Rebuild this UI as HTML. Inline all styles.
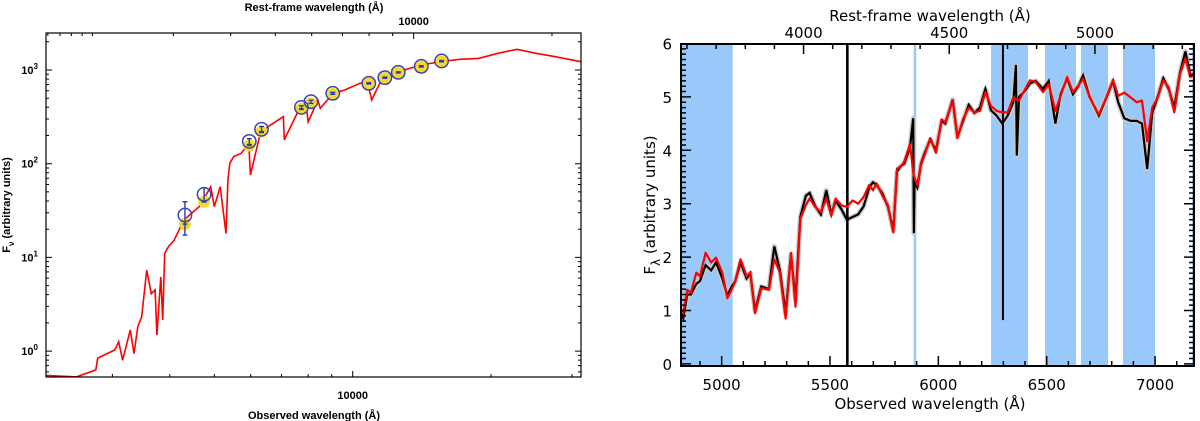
<!DOCTYPE html>
<html><head><meta charset="utf-8">
<style>
html,body{margin:0;padding:0;background:#fff;}
svg{display:block;}
.lt{font-family:"Liberation Sans",sans-serif;font-weight:bold;font-size:11px;fill:#000;}
.rt{font-family:"DejaVu Sans","Liberation Sans",sans-serif;font-size:15px;fill:#000;}
</style></head>
<body>
<svg id="fig" width="1200" height="421" viewBox="0 0 1200 421" xmlns="http://www.w3.org/2000/svg">
<g id="left"></g>
<g id="right"></g>
</svg>
<script>
// ---------- LEFT PANEL DATA (SED) ----------
const sedWave = [2150,2506,2761,2787,3037,3097,3157,3281,3343,3408,3475,3562,3645,3715,3750,3823,3861,3899,3972,4090,4291,4457,4634,4815,4909,5000,5148,5300,5350,5402,5508,5720,5943,5990,6295,6546,7065,7100,7629,7925,8000,8395,8500,9069,9605,10375,10777,11000,11635,12567,14100,15520,17080,18800,20700,22780,25060,27600,31380];
const sedFlux = [0.55,0.53,0.63,0.84,1.03,1.26,0.80,1.68,0.94,1.82,2.33,7.3,4.1,4.5,1.48,6.2,2.14,11.0,13.0,15.3,25,29.5,34.8,48,56.8,34.8,56.8,18,67,101,119,129,165,76,211,248,318,180,374,406,280,478,390,564,611,721,732,478,849,960,1130,1227,1300,1330,1506,1662,1506,1388,1227];
const photWave = [4315,4750,5957,6334,7734,8113,9049,10839,11749,12565,14100,15610];
const modelFlux = [28.3,47.1,173,233,399,459,564,721,828,944,1094,1248];
const obsFlux = [22.7,39.3,156,220,384,441,554,721,821,937,1085,1237];
const errLo = [17.3,39,160,215,380,440,550,710,815,930,1075,1225];
const errHi = [39.3,55.4,185,250,415,475,578,732,840,955,1110,1265];
const lYTicks = [1,10,100,1000];
const lYTickLabels = ["0","1","2","3"];
const lXMinor = [3000,4000,5000,6000,7000,8000,9000,20000,30000];
const redshift = 0.357;

// ---------- RIGHT PANEL DATA (spectrum) ----------
const specWave = [4795,4823,4841,4858,4883,4900,4926,4952,4974,5003,5026,5046,5063,5087,5115,5132,5154,5183,5218,5243,5269,5295,5320,5341,5363,5389,5406,5432,5458,5483,5506,5526,5552,5578,5604,5630,5655,5681,5698,5715,5741,5767,5792,5809,5826,5843,5869,5886,5903,5920,5937,5963,5989,6015,6032,6066,6088,6114,6140,6166,6192,6217,6243,6269,6295,6320,6346,6372,6397,6423,6449,6483,6509,6540,6564,6594,6621,6646,6668,6698,6741,6772,6806,6830,6858,6887,6916,6940,6964,6987,7012,7038,7063,7089,7115,7140,7163,7185];
const modelSpec = [1.14,0.95,1.39,1.33,1.71,1.64,2.08,1.90,1.99,1.71,1.23,1.39,1.55,1.96,1.64,1.71,0.95,1.42,1.39,1.96,1.71,0.85,2.08,1.07,2.72,2.97,3.10,2.94,2.84,3.10,2.78,3.10,2.97,2.94,3.06,3.00,3.13,3.35,3.25,3.38,3.16,2.97,2.46,3.66,3.69,3.79,4.11,3.54,3.35,3.73,3.92,4.23,3.95,4.58,4.52,4.93,4.23,4.58,4.80,4.71,4.74,5.09,4.83,4.74,4.71,4.71,4.99,4.93,5.12,5.31,5.28,5.09,5.24,4.74,5.02,5.37,5.09,5.21,5.34,4.99,4.67,4.96,5.31,5.02,5.08,4.99,4.90,4.93,4.17,4.80,4.99,5.31,5.18,4.71,5.43,5.72,5.37,5.43];
const obsWaveSpec = [4795,4823,4841,4858,4883,4900,4926,4952,4974,5003,5026,5046,5063,5087,5115,5132,5154,5183,5218,5243,5269,5295,5320,5341,5363,5389,5406,5432,5458,5483,5506,5526,5552,5578,5604,5630,5655,5681,5698,5715,5741,5767,5792,5809,5826,5843,5869,5884,5887,5890,5903,5920,5937,5963,5989,6015,6032,6066,6088,6114,6140,6166,6192,6217,6243,6269,6295,6320,6346,6358,6362,6372,6397,6423,6449,6483,6509,6540,6564,6594,6621,6646,6668,6698,6741,6772,6806,6830,6858,6887,6916,6940,6964,6987,7012,7038,7063,7089,7115,7140,7163,7185];
const obsSpec = [1.10,0.85,1.30,1.30,1.50,1.55,1.85,1.75,1.90,1.60,1.28,1.45,1.55,1.90,1.60,1.70,1.00,1.45,1.40,2.20,1.75,0.95,2.05,1.20,2.75,3.15,3.20,2.95,2.80,3.25,2.80,3.05,2.90,2.70,2.75,2.80,2.95,3.30,3.40,3.35,3.20,2.95,2.50,3.60,3.70,3.75,4.05,4.60,2.45,3.40,3.30,3.75,3.95,4.20,4.00,4.55,4.50,4.95,4.25,4.55,4.85,4.70,4.80,5.15,4.75,4.65,4.50,4.65,4.90,5.60,3.90,5.00,5.10,5.25,5.30,5.15,5.30,4.50,5.05,5.35,5.05,5.20,5.40,5.00,4.65,4.95,5.30,4.90,4.60,4.55,4.55,4.50,3.65,4.70,5.00,5.35,5.15,4.80,5.45,5.85,5.40,5.45];
const skyBands = [[4795,5051],[5886,5898],[6243,6414],[6492,6635],[6658,6783],[6852,7000],[7171,7190]];
const skyLines = [5580,6298];
const skyLineBottom = [-0.1,0.82];
const rXMajor = [5000,5500,6000,6500,7000];
const rYMajor = [0,1,2,3,4,5,6];
const restMajor = [4000,4500,5000];
const zSpec = 0.3445;

const NS = "http://www.w3.org/2000/svg";
function mk(parent, tag, attrs){const e=document.createElementNS(NS,tag);for(const k in attrs)e.setAttribute(k,attrs[k]);parent.appendChild(e);return e;}

// ===== LEFT PANEL =====
const L = document.getElementById('left');
const LX0=46, LX1=581, LY0=33, LY1=377;
const lx = w => 352.7 + 459.6*Math.log10(w/10000);
const ly = f => 70 + 93.7*(3-Math.log10(f));
const defs = mk(document.getElementById('fig'),'defs',{});
const cp = mk(defs,'clipPath',{id:'lclip'}); mk(cp,'rect',{x:LX0,y:LY0,width:LX1-LX0,height:LY1-LY0});
const cp2 = mk(defs,'clipPath',{id:'rclip'}); mk(cp2,'rect',{x:681,y:44,width:513,height:322});

let d = sedWave.map((w,i)=>(i?'L':'M')+lx(w).toFixed(1)+' '+ly(sedFlux[i]).toFixed(1)).join(' ');
const sedLine = mk(L,'path',{d:d,fill:'none',stroke:'#f00','stroke-width':1.6,'clip-path':'url(#lclip)'});



photWave.forEach((w,i)=>{
  const x=lx(w);
  const y1=ly(obsFlux[i]);
  const dot=mk(L,'circle',{cx:x,cy:y1,r:6,fill:'#f6d928'});
  
  
});
photWave.forEach((w,i)=>{
  const x=lx(w);
  const y=ly(modelFlux[i]);
  const eb=mk(L,'path',{d:`M${x} ${ly(errLo[i])}L${x} ${ly(errHi[i])}M${x-2.5} ${ly(errLo[i])}h5M${x-2.5} ${ly(errHi[i])}h5M${x-2.5} ${ly(obsFlux[i])}h5`,stroke:'#2d3ca8','stroke-width':1.4,fill:'none'});
  
  
  const c=mk(L,'circle',{cx:x,cy:y,r:6.7,fill:'none',stroke:'#3a45b5','stroke-width':1.5});
  
  
});

const lf=mk(L,'rect',{x:LX0,y:LY0,width:LX1-LX0,height:LY1-LY0,fill:'none',stroke:'#000','stroke-width':1.2});


let tk='';
for(let e=-1;e<4;e++){for(let m=1;m<10;m++){const f=m*Math.pow(10,e);const y=ly(f);if(y<LY0||y>LY1)continue;const len=m===1?6:3;tk+=`M${LX0} ${y}h${len}M${LX1} ${y}h${-len}`;}}
lXMinor.concat([10000]).forEach(w=>{const x=lx(w);if(x<LX0||x>LX1)return;const len=w===10000?6:3;tk+=`M${x} ${LY1}v${-len}`;});
[1600,1700,1800,1900,2000,3000,4000,5000,6000,7000,8000,9000,10000,20000].forEach(r=>{const x=lx(r*(1+redshift));if(x<LX0||x>LX1)return;const len=r===10000?6:3;tk+=`M${x} ${LY0}v${len}`;});
const ticksL=mk(L,'path',{d:tk,stroke:'#000','stroke-width':1,fill:'none'});


lYTicks.forEach((f,i)=>{
  const t=mk(L,'text',{x:38,y:ly(f)+4,'text-anchor':'end',class:'lt'});
  t.textContent='10';
  const s=mk(t,'tspan',{dy:-5,'font-size':'8'}); s.textContent=lYTickLabels[i];
  
  
});
function ltext(x,y,str,name,extra){const t=mk(L,'text',Object.assign({x:x,y:y,'text-anchor':'middle',class:'lt'},extra||{}));t.textContent=str;return t;}
ltext(lx(10000),399,'10000','x-tick-label-10000');
ltext(314,419,'Observed wavelength (Å)','x-axis-title');
ltext(lx(10000*(1+redshift)),25,'10000','top-tick-label-10000');
ltext(314,11,'Rest-frame wavelength (Å)','top-axis-title');
const yt=mk(L,'text',{x:0,y:0,'text-anchor':'middle',class:'lt',transform:'translate(10,205) rotate(-90)'});
yt.textContent='F';
const sub=mk(yt,'tspan',{dy:4,'font-size':'8'}); sub.textContent='ν';
const rest=mk(yt,'tspan',{dy:-4}); rest.textContent=' (arbitrary units)';



// ===== RIGHT PANEL =====
const R=document.getElementById('right');
const RX0=681, RX1=1194, RY0=44, RY1=366;
const rx = w => 1046.7 + (w-6500)*0.2167;
const ry = v => 43.5 + (6-v)*53.4;
skyBands.forEach(b=>{
  const r=mk(R,'rect',{x:rx(b[0]),y:RY0,width:rx(b[1])-rx(b[0]),height:RY1-RY0,fill:'#99c9fb','clip-path':'url(#rclip)'});
  
  
});
let ds = obsWaveSpec.map((w,i)=>(i?'L':'M')+rx(w).toFixed(1)+' '+ry(obsSpec[i]).toFixed(1)).join(' ');
const errBand=mk(R,'path',{d:ds,fill:'none',stroke:'#c8c8c8','stroke-width':5,'stroke-linejoin':'round','clip-path':'url(#rclip)'});


const obsLine=mk(R,'path',{d:ds,fill:'none',stroke:'#000','stroke-width':2.2,'clip-path':'url(#rclip)'});


skyLines.forEach((w,i)=>{
  const l=mk(R,'line',{x1:rx(w),x2:rx(w),y1:RY0,y2:Math.min(RY1,ry(skyLineBottom[i])),stroke:'#000','stroke-width':i===0?2.6:2});
  
  
});
let dm = specWave.map((w,i)=>(i?'L':'M')+rx(w).toFixed(1)+' '+ry(modelSpec[i]).toFixed(1)).join(' ');
const modelLine=mk(R,'path',{d:dm,fill:'none',stroke:'#f00','stroke-width':2.2,'stroke-linejoin':'round','clip-path':'url(#rclip)'});



const rf=mk(R,'rect',{x:RX0,y:RY0,width:RX1-RX0,height:RY1-RY0,fill:'none',stroke:'#000','stroke-width':2});


let tr='';
for(let v=0;v<=60;v++){const y=ry(v/10);if(y<RY0)continue;const len=v%10===0?10:5;tr+=`M${RX0} ${y}h${len}M${RX1} ${y}h${-len}`;}
for(let w=4900;w<=7100;w+=100){const x=rx(w);const len=w%500===0?10:5;tr+=`M${x} ${RY1}v${-len}`;}
for(let r=3600;r<=5300;r+=100){const x=rx(r*(1+zSpec));if(x<RX0||x>RX1)continue;const len=r%500===0?10:5;tr+=`M${x} ${RY0}v${len}`;}
const ticksR=mk(R,'path',{d:tr,stroke:'#000','stroke-width':1.5,fill:'none'});


function rtext(x,y,str,name,anchor){const t=mk(R,'text',{x:x,y:y,'text-anchor':anchor||'middle',class:'rt'});t.textContent=str;return t;}
rYMajor.forEach(v=>rtext(672,ry(v)+6,String(v),'y-tick-label','end'));
rXMajor.forEach(w=>rtext(rx(w),390,String(w),'x-tick-label'));
restMajor.forEach(r=>rtext(rx(r*(1+zSpec)),38,String(r),'top-tick-label'));
rtext(930,409,'Observed wavelength (Å)','x-axis-title');
rtext(930,21,'Rest-frame wavelength (Å)','top-axis-title');
const ryt=mk(R,'text',{x:0,y:0,'text-anchor':'middle',class:'rt',transform:'translate(655,205) rotate(-90)'});
ryt.textContent='F';
const rs=mk(ryt,'tspan',{dy:5,'font-size':'12'}); rs.textContent='λ';
const rr=mk(ryt,'tspan',{dy:-5}); rr.textContent=' (arbitrary units)';


</script>
</body></html>
